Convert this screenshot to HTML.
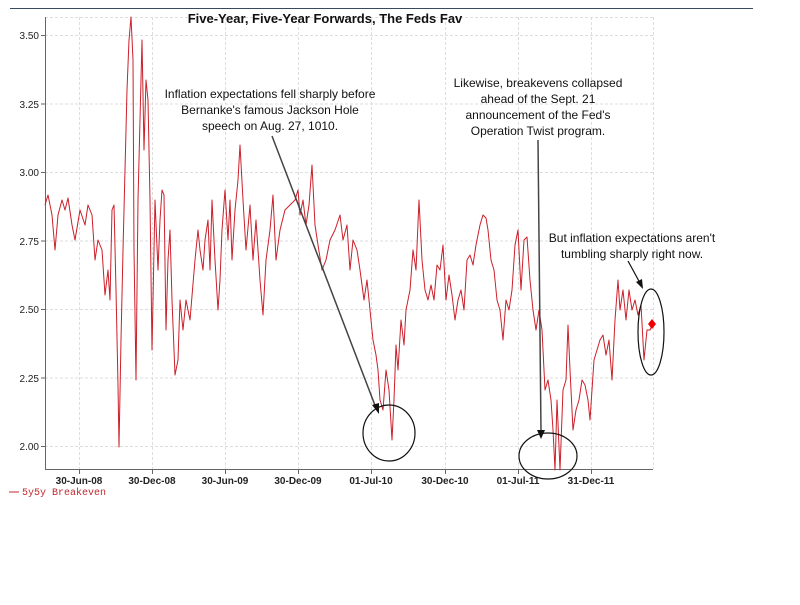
<!DOCTYPE html>
<html><head><meta charset="utf-8"><style>
body{margin:0;background:#fff;width:800px;height:600px;overflow:hidden}
svg text{font-family:"Liberation Sans",Arial,sans-serif}
</style></head><body>
<svg width="800" height="600" viewBox="0 0 800 600" xmlns="http://www.w3.org/2000/svg">
<line x1="10" y1="8.5" x2="753" y2="8.5" stroke="#3a4a5a" stroke-width="1"/>
<g stroke="#ddd" stroke-dasharray="3,2" stroke-width="1">
<line x1="45" y1="35.5" x2="653" y2="35.5"/><line x1="45" y1="104" x2="653" y2="104"/>
<line x1="45" y1="172.5" x2="653" y2="172.5"/><line x1="45" y1="241" x2="653" y2="241"/>
<line x1="45" y1="309.5" x2="653" y2="309.5"/><line x1="45" y1="378" x2="653" y2="378"/>
<line x1="45" y1="446.5" x2="653" y2="446.5"/>
<line x1="79.5" y1="17" x2="79.5" y2="469"/><line x1="152.5" y1="17" x2="152.5" y2="469"/>
<line x1="225.5" y1="17" x2="225.5" y2="469"/><line x1="298.5" y1="17" x2="298.5" y2="469"/>
<line x1="371.5" y1="17" x2="371.5" y2="469"/><line x1="445.5" y1="17" x2="445.5" y2="469"/>
<line x1="518.5" y1="17" x2="518.5" y2="469"/><line x1="591.5" y1="17" x2="591.5" y2="469"/>
<line x1="653.5" y1="17" x2="653.5" y2="469"/><line x1="45" y1="17.5" x2="653" y2="17.5"/>
</g>
<g stroke="#666" stroke-width="1">
<line x1="45.5" y1="17" x2="45.5" y2="470"/><line x1="45" y1="469.5" x2="653" y2="469.5"/>
<line x1="41" y1="35.5" x2="45" y2="35.5"/><line x1="41" y1="104" x2="45" y2="104"/><line x1="41" y1="172.5" x2="45" y2="172.5"/><line x1="41" y1="241" x2="45" y2="241"/><line x1="41" y1="309.5" x2="45" y2="309.5"/><line x1="41" y1="378" x2="45" y2="378"/><line x1="41" y1="446.5" x2="45" y2="446.5"/>
<line x1="79.5" y1="469" x2="79.5" y2="474"/><line x1="152.5" y1="469" x2="152.5" y2="474"/><line x1="225.5" y1="469" x2="225.5" y2="474"/><line x1="298.5" y1="469" x2="298.5" y2="474"/><line x1="371.5" y1="469" x2="371.5" y2="474"/><line x1="445.5" y1="469" x2="445.5" y2="474"/><line x1="518.5" y1="469" x2="518.5" y2="474"/><line x1="591.5" y1="469" x2="591.5" y2="474"/>
</g>
<g font-size="10" fill="#222" text-anchor="end">
<text x="39" y="39">3.50</text><text x="39" y="108">3.25</text><text x="39" y="176">3.00</text><text x="39" y="245">2.75</text><text x="39" y="313">2.50</text><text x="39" y="382">2.25</text><text x="39" y="450">2.00</text>
</g>
<g font-size="10" font-weight="bold" fill="#222" text-anchor="middle">
<text x="79" y="484">30-Jun-08</text><text x="152" y="484">30-Dec-08</text><text x="225" y="484">30-Jun-09</text><text x="298" y="484">30-Dec-09</text><text x="371" y="484">01-Jul-10</text><text x="445" y="484">30-Dec-10</text><text x="518" y="484">01-Jul-11</text><text x="591" y="484">31-Dec-11</text>
</g>
<line x1="9" y1="492" x2="19" y2="492" stroke="#c0282e"/>
<text x="22" y="495" font-size="10" fill="#c0282e" style="font-family:'Liberation Mono',monospace">5y5y Breakeven</text>
<text x="325" y="23" font-size="13" font-weight="bold" text-anchor="middle" fill="#111">Five-Year, Five-Year Forwards, The Feds Fav</text>
<polyline fill="none" stroke="#cc1f2a" stroke-width="1" stroke-linejoin="round" points="45,205 48,195 52,215 55,250 58,215 62,200 65,210 68,198 72,225 75,240 80,210 85,225 88,205 92,215 95,260 98,240 102,250 105,295 108,270 110,300 112,210 114,205 116,290 118,385 119,447 121,340 123,250 125,170 127,90 129,40 131,17 133,60 134,250 136,380 138,200 140,120 142,40 144,150 146,80 148,100 150,200 152,350 154,250 155,200 158,270 160,220 162,190 164,195 166,330 168,260 170,230 172,300 175,375 178,360 180,300 183,330 186,300 190,320 195,260 198,230 200,250 203,270 205,240 208,220 210,270 212,200 215,260 218,310 220,280 222,230 225,190 228,240 230,200 232,260 235,210 238,180 240,145 243,200 246,250 250,205 253,260 256,220 260,280 263,315 266,260 270,230 273,195 276,260 280,230 285,210 290,205 295,200 298,190 300,215 303,200 306,225 309,205 312,165 315,225 318,245 322,270 326,260 330,240 335,230 340,215 343,240 347,225 350,270 353,240 357,250 360,270 364,300 367,280 370,310 373,340 376,355 378,370 380,400 383,410 386,370 389,390 392,440 394,400 396,345 398,370 401,320 404,345 406,310 410,290 413,250 416,270 419,200 422,260 425,290 428,300 431,285 434,300 437,265 440,270 443,245 446,300 449,275 452,295 455,320 458,300 461,290 464,310 467,260 470,255 473,265 476,245 480,225 483,215 486,218 488,230 491,260 494,270 497,300 500,310 503,340 506,300 509,310 512,290 515,245 518,230 521,290 524,240 527,237 530,280 533,310 536,330 539,310 542,330 545,390 548,380 551,400 553,430 555,470 557,400 560,470 563,390 566,380 568,325 570,370 573,430 576,410 579,400 582,380 585,385 588,400 590,420 594,360 597,350 600,340 603,335 606,355 609,340 612,380 615,320 618,280 620,310 623,290 626,320 629,290 632,310 635,300 638,315 641,305 644,360 647,330 650,330 653,323"/>
<polygon points="652,319 656,324 652,329 648,324" fill="#e00"/>
<g fill="none" stroke="#111" stroke-width="1.2">
<ellipse cx="389" cy="433" rx="26" ry="28"/>
<ellipse cx="548" cy="456" rx="29" ry="23"/>
<ellipse cx="651" cy="332" rx="13" ry="43"/>
<line x1="272" y1="136" x2="376" y2="408" stroke="#444" stroke-width="1.5"/>
<line x1="538" y1="140" x2="541" y2="432" stroke="#444" stroke-width="1.5"/>
<line x1="628" y1="261" x2="640" y2="283"/>
</g>
<polygon points="379,414 372,405 379,403" fill="#111"/>
<polygon points="541,439 537,430 545,430" fill="#111"/>
<polygon points="643,289 636,282 642,279" fill="#111"/>
<g font-size="12" fill="#111" text-anchor="middle">
<text x="270" y="98">Inflation expectations fell sharply before</text>
<text x="270" y="114">Bernanke's famous Jackson Hole</text>
<text x="270" y="130">speech on Aug. 27, 1010.</text>
<text x="538" y="87">Likewise, breakevens collapsed</text>
<text x="538" y="103">ahead of the Sept. 21</text>
<text x="538" y="119">announcement of the Fed's</text>
<text x="538" y="135">Operation Twist program.</text>
<text x="632" y="242">But inflation expectations aren't</text>
<text x="632" y="258">tumbling sharply right now.</text>
</g>
</svg>
</body></html>
